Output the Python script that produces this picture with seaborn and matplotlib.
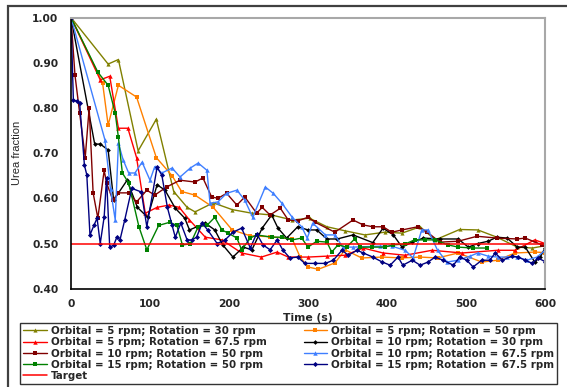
import matplotlib
matplotlib.use("Agg")
import matplotlib.pyplot as plt
import seaborn as sns
from matplotlib.patches import Rectangle

# ---------------- data ----------------
labels = [
    "Orbital = 5 rpm; Rotation = 30 rpm",
    "Orbital = 5 rpm; Rotation = 50 rpm",
    "Orbital = 5 rpm; Rotation = 67.5 rpm",
    "Orbital = 10 rpm; Rotation = 30 rpm",
    "Orbital = 10 rpm; Rotation = 50 rpm",
    "Orbital = 10 rpm; Rotation = 67.5 rpm",
    "Orbital = 15 rpm; Rotation = 50 rpm",
    "Orbital = 15 rpm; Rotation = 67.5 rpm",
]

t_o5_r30 = [0, 47, 60, 85, 108, 130, 147, 157, 180, 204, 229, 254, 280, 302, 324, 347, 372, 397, 419, 442, 461, 492, 515, 539, 565, 584, 600]
v_o5_r30 = [1.00, 0.897, 0.907, 0.705, 0.775, 0.615, 0.58, 0.57, 0.59, 0.575, 0.567, 0.563, 0.552, 0.556, 0.537, 0.528, 0.519, 0.525, 0.523, 0.537, 0.508, 0.531, 0.53, 0.514, 0.492, 0.49, 0.495]

t_o5_r50 = [0, 40, 47, 60, 83, 108, 128, 140, 157, 180, 204, 227, 252, 280, 290, 300, 313, 334, 347, 368, 394, 419, 442, 464, 490, 520, 540, 562, 587, 600]
v_o5_r50 = [1.00, 0.855, 0.762, 0.85, 0.824, 0.69, 0.65, 0.615, 0.607, 0.58, 0.53, 0.517, 0.515, 0.51, 0.47, 0.448, 0.443, 0.457, 0.486, 0.468, 0.47, 0.468, 0.47, 0.468, 0.479, 0.459, 0.463, 0.479, 0.481, 0.48]

t_o5_r675 = [0, 37, 49, 60, 72, 83, 94, 109, 124, 137, 150, 170, 191, 216, 241, 261, 275, 300, 324, 347, 370, 395, 423, 457, 495, 540, 562, 587, 600]
v_o5_r675 = [1.00, 0.862, 0.87, 0.755, 0.755, 0.69, 0.567, 0.58, 0.585, 0.58, 0.552, 0.514, 0.508, 0.479, 0.47, 0.481, 0.47, 0.47, 0.472, 0.474, 0.49, 0.479, 0.474, 0.485, 0.479, 0.485, 0.485, 0.508, 0.5]

t_o10_r30 = [0, 30, 37, 47, 54, 71, 84, 97, 109, 119, 132, 144, 150, 170, 182, 192, 205, 218, 229, 242, 254, 262, 273, 287, 300, 311, 324, 337, 357, 382, 395, 408, 419, 432, 446, 467, 490, 503, 515, 528, 539, 552, 565, 575, 587, 594, 600]
v_o10_r30 = [1.00, 0.72, 0.72, 0.707, 0.596, 0.64, 0.58, 0.558, 0.63, 0.618, 0.578, 0.556, 0.53, 0.545, 0.53, 0.497, 0.47, 0.492, 0.486, 0.534, 0.563, 0.534, 0.512, 0.537, 0.53, 0.53, 0.51, 0.51, 0.519, 0.502, 0.534, 0.519, 0.492, 0.503, 0.512, 0.51, 0.51, 0.492, 0.5, 0.505, 0.514, 0.512, 0.492, 0.492, 0.459, 0.47, 0.49]

t_o10_r50 = [0, 5, 11, 18, 23, 28, 34, 42, 45, 53, 60, 73, 83, 96, 106, 121, 138, 157, 167, 178, 186, 197, 210, 220, 235, 242, 252, 265, 275, 287, 300, 309, 334, 357, 370, 382, 395, 406, 419, 439, 451, 467, 490, 514, 539, 565, 575, 596]
v_o10_r50 = [1.00, 0.873, 0.788, 0.69, 0.80, 0.612, 0.556, 0.662, 0.634, 0.596, 0.612, 0.612, 0.592, 0.618, 0.607, 0.625, 0.64, 0.636, 0.645, 0.603, 0.6, 0.611, 0.585, 0.603, 0.567, 0.58, 0.563, 0.578, 0.552, 0.55, 0.558, 0.547, 0.525, 0.552, 0.541, 0.537, 0.537, 0.525, 0.53, 0.537, 0.525, 0.503, 0.505, 0.516, 0.512, 0.51, 0.512, 0.497]

t_o10_r675 = [0, 43, 50, 56, 60, 66, 73, 81, 90, 100, 106, 115, 128, 138, 151, 161, 172, 176, 186, 197, 210, 220, 230, 246, 256, 267, 280, 292, 299, 306, 322, 334, 344, 357, 391, 406, 423, 433, 444, 452, 464, 476, 490, 505, 515, 528, 540, 552, 565, 577, 590, 600]
v_o10_r675 = [1.00, 0.729, 0.62, 0.552, 0.722, 0.685, 0.656, 0.656, 0.68, 0.64, 0.67, 0.656, 0.667, 0.647, 0.667, 0.678, 0.662, 0.589, 0.592, 0.611, 0.618, 0.596, 0.558, 0.625, 0.611, 0.589, 0.558, 0.537, 0.512, 0.545, 0.519, 0.519, 0.492, 0.492, 0.494, 0.494, 0.485, 0.468, 0.53, 0.53, 0.485, 0.459, 0.463, 0.472, 0.479, 0.472, 0.47, 0.47, 0.47, 0.463, 0.47, 0.485]

t_o15_r50 = [0, 34, 47, 56, 60, 65, 73, 86, 96, 111, 125, 134, 141, 151, 161, 172, 182, 191, 199, 210, 216, 227, 235, 254, 267, 280, 292, 300, 311, 324, 330, 338, 349, 359, 366, 381, 397, 408, 423, 435, 448, 461, 477, 490, 509, 527]
v_o15_r50 = [1.00, 0.879, 0.85, 0.788, 0.735, 0.656, 0.634, 0.537, 0.486, 0.54, 0.547, 0.54, 0.497, 0.499, 0.537, 0.54, 0.558, 0.53, 0.523, 0.512, 0.486, 0.512, 0.519, 0.514, 0.514, 0.508, 0.512, 0.492, 0.505, 0.503, 0.481, 0.497, 0.492, 0.51, 0.492, 0.492, 0.492, 0.497, 0.499, 0.508, 0.508, 0.508, 0.497, 0.492, 0.49, 0.49]

t_o15_r675 = [0, 3, 8, 11, 17, 20, 24, 29, 33, 37, 42, 45, 49, 54, 58, 62, 68, 77, 89, 96, 109, 115, 122, 128, 132, 139, 147, 153, 159, 166, 173, 185, 195, 205, 216, 227, 235, 243, 252, 261, 268, 277, 287, 296, 309, 322, 332, 343, 351, 362, 370, 382, 394, 404, 414, 420, 432, 442, 452, 461, 471, 484, 492, 501, 509, 520, 530, 537, 546, 558, 566, 575, 584, 591, 600]
v_o15_r675 = [1.00, 0.817, 0.815, 0.81, 0.673, 0.652, 0.519, 0.54, 0.556, 0.50, 0.559, 0.646, 0.492, 0.496, 0.514, 0.508, 0.552, 0.622, 0.614, 0.537, 0.669, 0.651, 0.58, 0.54, 0.514, 0.545, 0.508, 0.508, 0.514, 0.545, 0.53, 0.50, 0.508, 0.525, 0.534, 0.49, 0.522, 0.497, 0.486, 0.508, 0.486, 0.468, 0.47, 0.456, 0.456, 0.456, 0.463, 0.485, 0.474, 0.485, 0.479, 0.47, 0.459, 0.452, 0.47, 0.452, 0.463, 0.452, 0.459, 0.47, 0.463, 0.452, 0.47, 0.463, 0.448, 0.463, 0.463, 0.479, 0.463, 0.472, 0.47, 0.463, 0.456, 0.468, 0.46]

target_t = [0, 600]
target_v = [0.5, 0.5]

x_ticks = [0, 100, 200, 300, 400, 500, 600]
y_ticks = [0.40, 0.50, 0.60, 0.70, 0.80, 0.90, 1.00]

# ---------------- style ----------------
series_t = [t_o5_r30, t_o5_r50, t_o5_r675, t_o10_r30, t_o10_r50, t_o10_r675, t_o15_r50, t_o15_r675]
series_v = [v_o5_r30, v_o5_r50, v_o5_r675, v_o10_r30, v_o10_r50, v_o10_r675, v_o15_r50, v_o15_r675]
colors = ["#808000", "#FF8000", "#FF0000", "#000000", "#800000", "#3F7FFF", "#008000", "#000080"]
markers = ["^", "s", "^", "D", "s", "^", "s", "D"]
msizes = [3.0, 3.0, 3.2, 2.4, 2.8, 3.2, 2.8, 2.6]

sns.set_style("white")
plt.rcParams["font.family"] = ["DejaVu Sans"]

fig = plt.figure(figsize=(5.67, 3.87), dpi=100)
W, H = 567.0, 387.0
ax = fig.add_axes([71 / W, 1 - 288.7 / H, (545 - 71) / W, (288.7 - 17.5) / H])

for tt, vv, c, m, ms, lab in zip(series_t, series_v, colors, markers, msizes, labels):
    sns.lineplot(x=tt, y=vv, ax=ax, color=c, marker=m, markersize=ms,
                 markeredgewidth=0, linewidth=1.0, estimator=None, sort=False,
                 label=lab)
sns.lineplot(x=target_t, y=target_v, ax=ax, color="#FF0000", linewidth=1.1,
             estimator=None, label="Target")

h, l = ax.get_legend_handles_labels()
if ax.get_legend() is not None:
    ax.get_legend().remove()

ax.set_xlim(0, 600)
ax.set_ylim(0.40, 1.00)
ax.set_xticks(x_ticks)
ax.set_yticks(y_ticks)
ax.set_xticklabels([str(v) for v in x_ticks])
ax.set_yticklabels([f"{v:.2f}" for v in y_ticks])
for lbl in ax.get_xticklabels() + ax.get_yticklabels():
    lbl.set_fontweight("bold")
    lbl.set_fontsize(7.7)
ax.tick_params(axis="both", direction="out", length=4, width=1, color="black")
ax.tick_params(axis="y", pad=5)
ax.tick_params(axis="x", pad=3.5)

ax.spines["left"].set_color("black")
ax.spines["bottom"].set_color("black")
ax.spines["left"].set_linewidth(1.2)
ax.spines["bottom"].set_linewidth(1.2)
ax.spines["top"].set_color("#A8A8A8")
ax.spines["right"].set_color("#A8A8A8")
ax.spines["top"].set_linewidth(1.5)
ax.spines["right"].set_linewidth(1.5)

ax.set_xlabel("Time (s)", fontsize=7.8, fontweight="bold", labelpad=3)
ax.set_ylabel("Urea fraction", fontsize=8, family=["Liberation Sans", "DejaVu Sans"], labelpad=7)

# outer chart frame (partially outside the canvas)
fig.add_artist(Rectangle((7.5 / W, -0.1), 1.5, 1.1 - 5.5 / H, transform=fig.transFigure,
                         fill=False, edgecolor="#404040", linewidth=1.6, clip_on=False))

# legend in row-major order as in the reference
order = [0, 2, 4, 6, 8, 1, 3, 5, 7]
leg = fig.legend([h[i] for i in order], [l[i] for i in order], ncol=2,
                 loc="upper left", bbox_to_anchor=(20 / W, 1 - 323 / H),
                 bbox_transform=fig.transFigure, frameon=True, fancybox=False,
                 edgecolor="black", borderaxespad=0,
                 prop={"weight": "bold", "size": 7.4, "family": "DejaVu Sans"},
                 labelspacing=0.12, handlelength=2.3, handletextpad=0.4,
                 columnspacing=3.6, borderpad=0.3)
leg.get_frame().set_linewidth(1.0)

fig.savefig("out.png", dpi=100)
